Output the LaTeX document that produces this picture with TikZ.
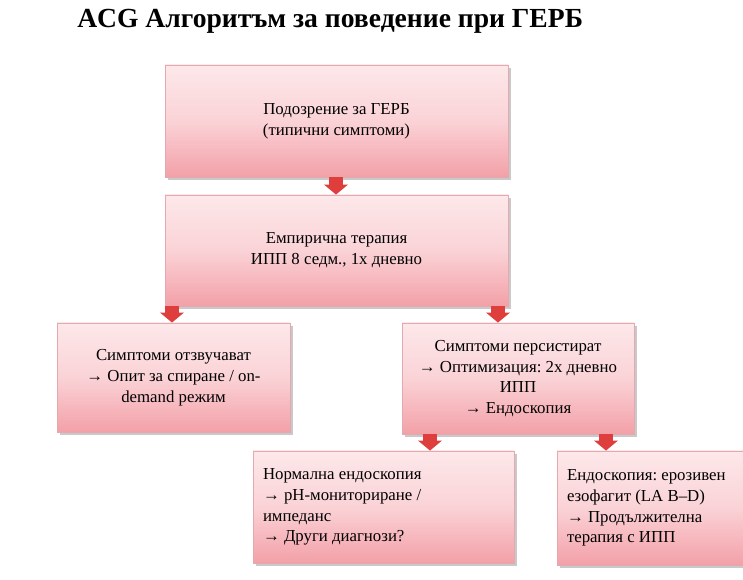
\documentclass[tikz,border=0pt]{standalone}
\usepackage{fontspec}
\setmainfont{Liberation Serif}
\frenchspacing
\usetikzlibrary{arrows.meta,shadows}
\definecolor{boxtop}{RGB}{253,232,234}
\definecolor{boxbot}{RGB}{243,160,168}
\definecolor{boxline}{RGB}{228,168,174}
\definecolor{arrred}{RGB}{222,62,60}
\tikzset{
  flowbox/.style={draw=boxline, line width=0.6pt, top color=boxtop, bottom color=boxbot,
    middle color=boxtop!70!boxbot,
    drop shadow={shadow xshift=2pt, shadow yshift=-2pt, opacity=0.35, fill=black!60},
    font=\fontsize{12.6}{15.6}\selectfont, inner sep=0pt, align=center},
  blk/.style={draw=arrred, line width=11pt, -{Triangle[width=17.5pt,length=7.5pt]}, arrred},
}
\begin{document}
\begin{tikzpicture}[x=0.75pt,y=-0.75pt]
\useasboundingbox (0,0) rectangle (743,580);
\fill[white] (0,0) rectangle (743,580);
\clip (0,0) rectangle (743,580);
\node[font=\bfseries\fontsize{20.7}{24}\selectfont, anchor=base west, inner sep=0pt] (title) at (77,28) {ACG Алгоритъм за поведение при ГЕРБ};
\node[flowbox, minimum width=257.25pt, minimum height=84pt] (b1) at (336.5,121)
  {Подозрение за ГЕРБ\\(типични симптоми)};
\node[flowbox, minimum width=257.25pt, minimum height=83.25pt] (b2) at (336.5,250.5)
  {Емпирична терапия\\ИПП 8 седм., 1х дневно};
\node[flowbox, minimum width=174.75pt, minimum height=81.75pt] (b3) at (173.5,377.5)
  {Симптоми отзвучават\\→ Опит за спиране / on-\\demand режим};
\node[flowbox, minimum width=174pt, minimum height=83.25pt] (b4) at (518,378.5)
  {Симптоми персистират\\→ Оптимизация: 2х дневно\\ИПП\\→ Ендоскопия};
\node[flowbox, minimum width=195.75pt, minimum height=84pt, text width=180.75pt, align=flush left] (b5) at (383.5,507)
  {Нормална ендоскопия\\→ pH-мониториране /\\импеданс\\→ Други диагнози?};
\node[flowbox, minimum width=144.75pt, minimum height=85.5pt, text width=129.75pt, align=flush left] (b6) at (653.5,508)
  {Ендоскопия: ерозивен\\езофагит (LA B–D)\\→ Продължителна\\терапия с ИПП};
\draw[blk] (b1.south -| 336,0) -- (b2.north -| 336,0);
\draw[blk] (b2.south -| 172,0) -- (b3.north -| 172,0);
\draw[blk] (b2.south -| 498,0) -- (b4.north -| 498,0);
\draw[blk] (b4.south -| 430,0) -- (b5.north -| 430,0);
\draw[blk] (b4.south -| 606,0) -- (b6.north -| 606,0);
\end{tikzpicture}
\end{document}
